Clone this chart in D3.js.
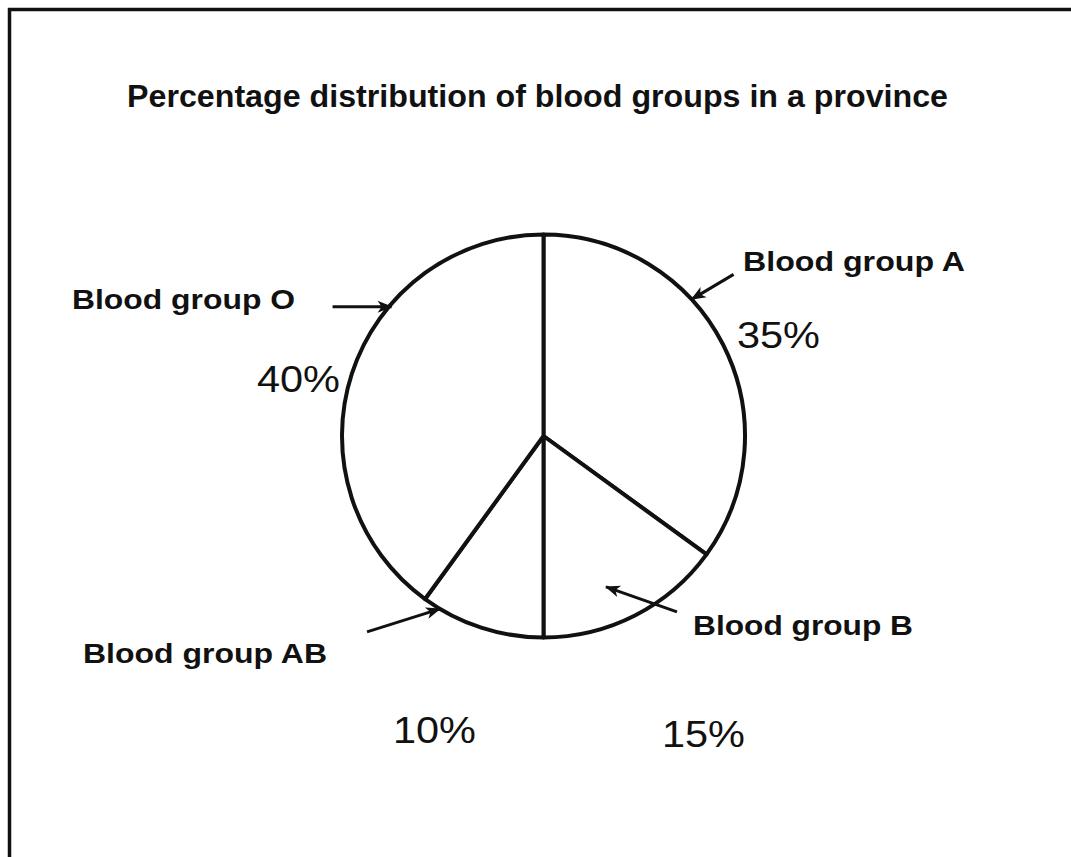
<!DOCTYPE html>
<html>
<head>
<meta charset="utf-8">
<script src="https://cdn.jsdelivr.net/npm/d3@7"></script>
<style>
  html, body { margin: 0; padding: 0; background: #fff; }
  svg { display: block; }
  text { font-family: "Liberation Sans", Arial, Helvetica, sans-serif; fill: #111; }
</style>
</head>
<body>
<svg id="chart" width="1071" height="857"></svg>
<script>
// ---- data ----
const title = "Percentage distribution of blood groups in a province";
const categories = ["Blood group A", "Blood group B", "Blood group AB", "Blood group O"];
const values = [35, 15, 10, 40];
const valueLabels = ["35%", "15%", "10%", "40%"];

// ---- layout (positions/styles, not data) ----
const W = 1071, H = 857;
const cx = 543.5, cy = 436, R = 201.5;
const nameLayout = [
  { tipAng: 47.3,  tipR: 1.0,  tail: [42, -25], lx: 743, ly: 271, lw: 222 },
  { tipAng: 157.5, tipR: 0.81, tail: [71, 25],  lx: 693, ly: 635, lw: 220 },
  { tipAng: 210.9, tipR: 1.0,  tail: [-73, 23], lx: 83,  ly: 663, lw: 244 },
  { tipAng: 310.4, tipR: 0.99, tail: [-59, 0],  lx: 72,  ly: 309, lw: 223 }
];
const pctLayout = [
  { x: 737, y: 348 },
  { x: 662, y: 747 },
  { x: 393, y: 743 },
  { x: 257, y: 392 }
];

const svg = d3.select("#chart");

// frame (top and left border)
svg.append("path")
  .attr("d", `M9.5,${H} L9.5,9.5 L${W},9.5`)
  .attr("fill", "none").attr("stroke", "#111").attr("stroke-width", 3.5);

// title
svg.append("text")
  .attr("x", 127).attr("y", 107)
  .attr("font-size", 32).attr("font-weight", "bold")
  .attr("textLength", 821).attr("lengthAdjust", "spacingAndGlyphs")
  .text(title);

// arrow marker
svg.append("defs").append("marker")
  .attr("id", "arrow")
  .attr("markerUnits", "userSpaceOnUse")
  .attr("markerWidth", 18).attr("markerHeight", 16)
  .attr("viewBox", "-16 -8 18 16")
  .attr("refX", 0).attr("refY", 0)
  .attr("orient", "auto")
  .append("path")
  .attr("d", "M1,0 L-14,-6 L-10,0 L-14,6 Z")
  .attr("fill", "#111");

// pie
const pie = d3.pie().sort(null).value(d => d);
const arcs = pie(values);
const arc = d3.arc().innerRadius(0).outerRadius(R);

const g = svg.append("g").attr("transform", `translate(${cx},${cy})`);
g.selectAll("path.slice")
  .data(arcs)
  .join("path")
  .attr("class", "slice")
  .attr("d", arc)
  .attr("fill", "#fff")
  .attr("stroke", "#111")
  .attr("stroke-width", 4)
  .attr("stroke-linejoin", "round");

// annotations
const ann = svg.append("g");
categories.forEach((name, i) => {
  const L = nameLayout[i];
  const a = L.tipAng * Math.PI / 180;
  const tx = cx + Math.sin(a) * R * L.tipR;
  const ty = cy - Math.cos(a) * R * L.tipR;
  ann.append("line")
    .attr("x1", tx + L.tail[0]).attr("y1", ty + L.tail[1])
    .attr("x2", tx).attr("y2", ty)
    .attr("stroke", "#111").attr("stroke-width", 3)
    .attr("marker-end", "url(#arrow)");
  ann.append("text")
    .attr("x", L.lx).attr("y", L.ly)
    .attr("font-size", 27).attr("font-weight", "bold")
    .attr("textLength", L.lw).attr("lengthAdjust", "spacingAndGlyphs")
    .text(name);
  ann.append("text")
    .attr("x", pctLayout[i].x).attr("y", pctLayout[i].y)
    .attr("font-size", 37)
    .attr("textLength", 83).attr("lengthAdjust", "spacingAndGlyphs")
    .text(valueLabels[i]);
});
</script>
</body>
</html>
